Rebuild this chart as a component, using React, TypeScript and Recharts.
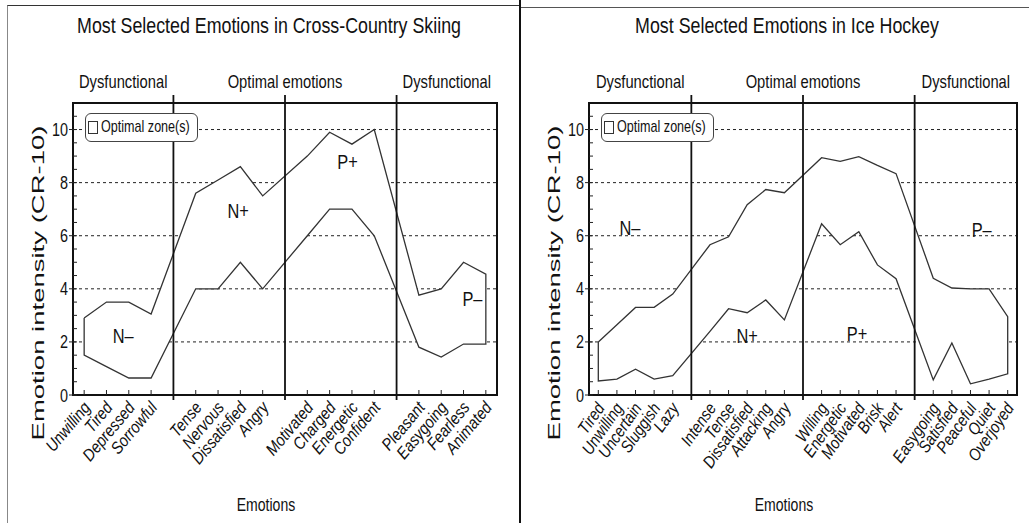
import React from 'react';
import {
  ComposedChart,
  Area,
  Line,
  XAxis,
  YAxis,
  CartesianGrid,
  ReferenceLine,
  ReferenceArea,
  ReferenceDot,
  Legend,
} from 'recharts';

const FONT = "'Liberation Sans', Arial, sans-serif";

// cross-country skiing: 4 groups of 4 emotions
const skiingEmotions = [
  'Unwilling', 'Tired', 'Depressed', 'Sorrowful',
  'Tense', 'Nervous', 'Dissatisfied', 'Angry',
  'Motivated', 'Charged', 'Energetic', 'Confident',
  'Pleasant', 'Easygoing', 'Fearless', 'Animated',
];
const skiingUpper = [2.9, 3.5, 3.5, 3.05, 7.6, 8.1, 8.6, 7.5, 9.0, 9.9, 9.45, 10.0, 3.76, 4.0, 5.0, 4.55];
const skiingLower = [1.5, 1.07, 0.64, 0.64, 4.0, 4.0, 5.0, 4.0, 6.0, 7.0, 7.0, 6.0, 1.8, 1.43, 1.92, 1.92];
const skiingZones = [
  { name: 'N–', x: 2.75, y: 2.25 },
  { name: 'N+', x: 7.9, y: 6.95 },
  { name: 'P+', x: 12.8, y: 8.8 },
  { name: 'P–', x: 18.4, y: 3.65 },
];

// ice hockey: 4 groups of 5 emotions
const hockeyEmotions = [
  'Tired', 'Unwilling', 'Uncertain', 'Sluggish', 'Lazy',
  'Intense', 'Tense', 'Dissatisfied', 'Attacking', 'Angry',
  'Willing', 'Energetic', 'Motivated', 'Brisk', 'Alert',
  'Easygoing', 'Satisfied', 'Peaceful', 'Quiet', 'Overjoyed',
];
const hockeyUpper = [2.0, 2.65, 3.3, 3.3, 3.8, 5.66, 5.96, 7.17, 7.74, 7.62, 8.94, 8.8, 8.98, 8.65, 8.34, 4.4, 4.03, 4.0, 4.0, 2.95];
const hockeyLower = [0.53, 0.6, 0.97, 0.6, 0.73, 2.4, 3.25, 3.1, 3.58, 2.83, 6.45, 5.66, 6.15, 4.9, 4.38, 0.57, 1.96, 0.42, 0.6, 0.8];
const hockeyZones = [
  { name: 'N–', x: 2.7, y: 6.3 },
  { name: 'N+', x: 9.0, y: 2.25 },
  { name: 'P+', x: 14.9, y: 2.3 },
  { name: 'P–', x: 21.6, y: 6.25 },
];

const sections = ['Dysfunctional', 'Optimal emotions', 'Dysfunctional'];
const yTicks = [0, 0.5, 1, 1.5, 2, 2.5, 3, 3.5, 4, 4.5, 5, 5.5, 6, 6.5, 7, 7.5, 8, 8.5, 9, 9.5, 10, 10.5];
const gridValues = [2, 4, 6, 8, 10];

// the original uses a condensed Helvetica, squeeze Liberation Sans to match
const Narrow = ({ x, y, size, sx = 0.8, anchor = 'middle', rotate = 0, italic = false, children }: any) => (
  <text
    transform={`translate(${x},${y}) rotate(${rotate}) scale(${sx},1)`}
    textAnchor={anchor}
    fontSize={size}
    fontStyle={italic ? 'italic' : 'normal'}
    fontFamily={FONT}
    fill="#111"
  >
    {children}
  </text>
);

const YTick = ({ x, y, payload }: any) => {
  const v = payload.value;
  const major = v % 2 === 0;
  return (
    <g>
      <line x1={x} x2={x + 4} y1={y} y2={y} stroke="#222" />
      {major && <line x1={x - 4} x2={x} y1={y} y2={y} stroke="#222" />}
      {major && (
        <Narrow x={x - 5} y={y + 6.5} size={18} sx={0.8} anchor="end">
          {v}
        </Narrow>
      )}
    </g>
  );
};

const makeXTick = (labels: string[], positions: number[], angle: number) => (props: any) => {
  const { x, y, payload } = props;
  const i = positions.indexOf(payload.value);
  return (
    <g>
      <line x1={x} x2={x} y1={y} y2={y - 5} stroke="#222" />
      <Narrow x={x + 7} y={y + 13} size={17} sx={0.86} anchor="end" rotate={angle} italic>
        {labels[i]}
      </Narrow>
    </g>
  );
};

const ZoneLegend = () => (
  <div
    style={{
      position: 'relative',
      width: 111,
      height: 27,
      border: '1px solid #444',
      borderRadius: 6,
      background: '#fff',
      fontFamily: FONT,
      fontSize: 17,
      color: '#111',
      whiteSpace: 'nowrap',
      overflow: 'hidden',
    }}
  >
    <span
      style={{
        position: 'absolute',
        left: 2,
        top: 7,
        width: 8,
        height: 11,
        border: '1px solid #333',
      }}
    />
    <span
      style={{
        position: 'absolute',
        left: 15,
        top: 3,
        display: 'inline-block',
        transform: 'scaleX(0.74)',
        transformOrigin: 'left center',
      }}
    >
      Optimal zone(s)
    </span>
  </div>
);

type PanelProps = {
  title: string;
  labels: string[];
  upper: number[];
  lower: number[];
  zones: { name: string; x: number; y: number }[];
  groupSize: number;
  width: number;
  right: number;
  axisWidth: number;
  angle: number;
};

const Panel = ({ title, labels, upper, lower, zones, groupSize, width, right, axisWidth, angle }: PanelProps) => {
  const positions = labels.map((_, i) => i + Math.floor(i / groupSize) + 1);
  const maxX = positions[positions.length - 1] + 0.5;
  const dividers = [1, 2, 3].map((g) => g * (groupSize + 1));
  const sectionBounds = [
    [0.5, dividers[0]],
    [dividers[0], dividers[2]],
    [dividers[2], maxX],
  ];
  const data = positions.map((p, i) => ({ x: p, range: [lower[i], upper[i]] }));
  const outline = [
    ...positions.map((p, i) => ({ x: p, y: upper[i] })),
    ...positions.map((p, i) => ({ x: p, y: lower[i] })).reverse(),
    { x: positions[0], y: upper[0] },
  ];
  const plotWidth = width - axisWidth - right;

  return (
    <div style={{ position: 'relative', width, height: 523 }}>
      <svg style={{ position: 'absolute', left: 0, top: 0 }} width={width} height={50}>
        <Narrow x={axisWidth + plotWidth / 2 - 16} y={33} size={22} sx={0.81}>
          {title}
        </Narrow>
      </svg>
      <ComposedChart width={width} height={523} data={data} margin={{ top: 103, right, bottom: 0, left: 0 }}>
        <CartesianGrid vertical={false} horizontalValues={gridValues} stroke="#222" strokeDasharray="3 3" />
        <XAxis
          dataKey="x"
          type="number"
          domain={[0.5, maxX]}
          ticks={positions}
          interval={0}
          height={128}
          axisLine={false}
          tickLine={false}
          tickSize={0}
          tickMargin={0}
          tick={makeXTick(labels, positions, angle)}
          label={({ viewBox }: any) => (
            <Narrow x={viewBox.x + viewBox.width / 2 - 19} y={viewBox.y + 116} size={18} sx={0.78}>
              Emotions
            </Narrow>
          )}
        />
        <YAxis
          type="number"
          domain={[0, 11]}
          ticks={yTicks}
          interval={0}
          width={axisWidth}
          axisLine={false}
          tickLine={false}
          tickSize={0}
          tickMargin={0}
          tick={YTick}
          label={({ viewBox }: any) => (
            <text
              transform={`translate(${viewBox.x + axisWidth - 35},${viewBox.y + viewBox.height / 2 + 34}) rotate(-90) scale(1.72,1)`}
              textAnchor="middle"
              dy="0.35em"
              fontSize={16}
              fontFamily={FONT}
              fill="#111"
            >
              Emotion intensity (CR-10)
            </text>
          )}
        />
        <Legend
          layout="vertical"
          align="center"
          verticalAlign="middle"
          content={ZoneLegend}
          wrapperStyle={{ left: axisWidth + 12, top: 113, width: 'auto', height: 'auto' }}
        />
        {sectionBounds.map(([a, b], i) => (
          <ReferenceArea
            key={`s${i}`}
            x1={a}
            x2={b}
            y1={0}
            y2={11}
            fill="none"
            stroke="none"
            label={({ viewBox }: any) => (
              <Narrow x={viewBox.x + viewBox.width / 2} y={viewBox.y - 15} size={18} sx={0.82}>
                {sections[i]}
              </Narrow>
            )}
          />
        ))}
        <Area
          type="linear"
          dataKey="range"
          fill="#fff"
          fillOpacity={1}
          stroke="none"
          isAnimationActive={false}
        />
        <Line
          type="linear"
          data={outline}
          dataKey="y"
          stroke="#333"
          strokeWidth={1.3}
          dot={false}
          isAnimationActive={false}
        />
        {dividers.map((d) => (
          <ReferenceLine
            key={`d${d}`}
            segment={[{ x: d, y: -0.19 }, { x: d, y: 11.3 }]}
            ifOverflow="visible"
            stroke="#111"
            strokeWidth={1.8}
          />
        ))}
        <ReferenceArea x1={0.5} x2={maxX} y1={0} y2={11} fill="none" stroke="#111" strokeWidth={2} />
        {zones.map((z) => (
          <ReferenceDot
            key={z.name}
            x={z.x}
            y={z.y}
            r={1}
            fill="none"
            stroke="none"
            label={({ viewBox }: any) => (
              <Narrow x={viewBox.x + viewBox.width / 2} y={viewBox.y + viewBox.height / 2 + 7.5} size={21} sx={0.78}>
                {z.name}
              </Narrow>
            )}
          />
        ))}
      </ComposedChart>
    </div>
  );
};

export default function App() {
  return (
    <div style={{ position: 'absolute', left: 0, top: 0, width: 1029, height: 523, background: '#fff', overflow: 'hidden' }}>
      <div style={{ position: 'absolute', left: 7, top: 5, width: 512, height: 518, borderTop: '1px solid #333', borderLeft: '1px solid #888' }} />
      <div style={{ position: 'absolute', left: 519, top: 0, width: 2, height: 523, background: '#111' }} />
      <div style={{ position: 'absolute', left: 521, top: 7, width: 508, height: 1, background: '#555' }} />
      <div style={{ position: 'absolute', left: 0, top: 0 }}>
        <Panel
          title="Most Selected Emotions in Cross-Country Skiing"
          labels={skiingEmotions}
          upper={skiingUpper}
          lower={skiingLower}
          zones={skiingZones}
          groupSize={4}
          width={515}
          right={18}
          axisWidth={73}
          angle={-50}
        />
      </div>
      <div style={{ position: 'absolute', left: 515, top: 0 }}>
        <Panel
          title="Most Selected Emotions in Ice Hockey"
          labels={hockeyEmotions}
          upper={hockeyUpper}
          lower={hockeyLower}
          zones={hockeyZones}
          groupSize={5}
          width={514}
          right={12}
          axisWidth={74}
          angle={-55}
        />
      </div>
    </div>
  );
}
